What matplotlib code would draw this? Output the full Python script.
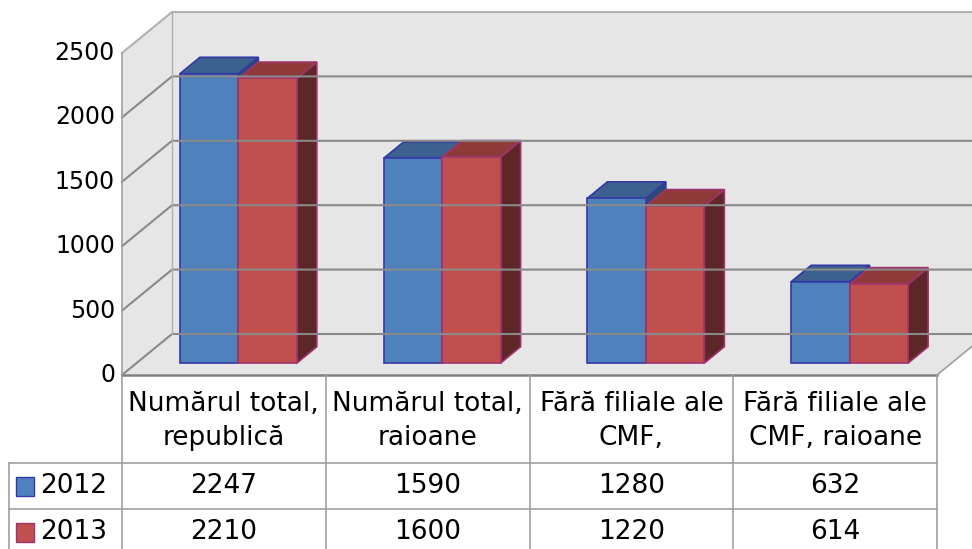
import matplotlib.pyplot as plt
from matplotlib.patches import Polygon, Rectangle

categories = [
    "Numărul total,\nrepublică",
    "Numărul total,\nraioane",
    "Fără filiale ale\nCMF,",
    "Fără filiale ale\nCMF, raioane",
]
years = ["2012", "2013"]
values_2012 = [2247, 1590, 1280, 632]
values_2013 = [2210, 1600, 1220, 614]
yticks = [0, 500, 1000, 1500, 2000, 2500]

W, H = 972, 549
PX_CAT = 815 / 4          # pixels per category
PX_VAL = 322 / 2500       # pixels per value unit
X0, Y0 = 122, 375         # pixel of (0, 0) front

DX = 50 / PX_CAT          # depth offset of the walls
DY = 41 / PX_VAL
Z0, Z1 = 0.29, 0.69       # bar front/back depth
BAR_W = 0.287

face = {"2012": "#4F81BD", "2013": "#C0504D"}
top = {"2012": "#3C618F", "2013": "#8E3A39"}
side = {"2012": "#2D4A72", "2013": "#5E2727"}
edge = {"2012": "#3438A6", "2013": "#A0336F"}
wall = "#E6E6E6"
grid = "#8A8A8A"


def proj(x, y, z):
    return (x + z * DX, y + z * DY)


def fy(py):
    return 1 - py / H


fig = plt.figure(figsize=(W / 100, H / 100), dpi=100)
ax = fig.add_axes([0, 0, 1, 1])
ax.set_xlim(-X0 / PX_CAT, (W - X0) / PX_CAT)
ax.set_ylim(-(H - Y0) / PX_VAL, Y0 / PX_VAL)
ax.axis("off")

n = len(categories)
vmax = yticks[-1]

# walls
walls = [
    [proj(0, 0, 1), proj(n, 0, 1), proj(n, vmax, 1), proj(0, vmax, 1)],
    [proj(0, 0, 0), proj(0, 0, 1), proj(0, vmax, 1), proj(0, vmax, 0)],
    [proj(0, 0, 0), proj(n, 0, 0), proj(n, 0, 1), proj(0, 0, 1)],
]
for pts in walls:
    ax.add_patch(Polygon(pts, closed=True, facecolor=wall, edgecolor="none"))

for v in yticks:
    pts = [proj(0, v, 0), proj(0, v, 1), proj(n + 1, v, 1)]
    col = "#B0B0B0" if v == vmax else grid
    ax.plot([p[0] for p in pts], [p[1] for p in pts], color=col, lw=1.5)
ax.plot([0, 0], [0, vmax], color="#A0A0A0", lw=1.2)
ax.plot([proj(0, 0, 1)[0]] * 2, [proj(0, 0, 1)[1], proj(0, vmax, 1)[1]],
        color="#B0B0B0", lw=1.0)
pa, pb = proj(n, 0, 0), proj(n, 0, 1)
ax.plot([pa[0], pb[0]], [pa[1], pb[1]], color="#A0A0A0", lw=1.2)

# bars
for i in range(n):
    x = i + 0.5 - BAR_W
    for year, vals in zip(years, [values_2012, values_2013]):
        v = vals[i]
        front = [proj(x, 0, Z0), proj(x + BAR_W, 0, Z0),
                 proj(x + BAR_W, v, Z0), proj(x, v, Z0)]
        topf = [proj(x, v, Z0), proj(x + BAR_W, v, Z0),
                proj(x + BAR_W, v, Z1), proj(x, v, Z1)]
        sidef = [proj(x + BAR_W, 0, Z0), proj(x + BAR_W, v, Z0),
                 proj(x + BAR_W, v, Z1), proj(x + BAR_W, 0, Z1)]
        for pts, c in [(sidef, side[year]), (topf, top[year]), (front, face[year])]:
            ax.add_patch(Polygon(pts, closed=True, facecolor=c,
                                 edgecolor=edge[year], lw=1.2, joinstyle="miter"))
        x += BAR_W

# y tick labels
for v in yticks:
    ax.text(-7 / PX_CAT, v, str(v), ha="right", va="center", fontsize=17)

# data table
xt = ax.get_xaxis_transform()
line_c = "#A0A0A0"
ax.plot([0, n], [fy(Y0)] * 2, transform=xt, color="#808080", lw=1.8)
for r in [463, 509]:
    ax.plot([-(X0 - 9) / PX_CAT, n], [fy(r)] * 2, transform=xt, color=line_c, lw=1.2)
for c in range(n + 1):
    ax.plot([c, c], [fy(Y0), 0], transform=xt, color=line_c, lw=1.2)
ax.plot([-(X0 - 9) / PX_CAT] * 2, [fy(463), 0], transform=xt, color=line_c, lw=1.2)

for i, cat in enumerate(categories):
    ax.text(i + 0.5, fy(421), cat, transform=xt, ha="center", va="center",
            fontsize=19, linespacing=1.38)

row_y = [486, 532]
for year, vals, ry in zip(years, [values_2012, values_2013], row_y):
    for i, v in enumerate(vals):
        ax.text(i + 0.5, fy(ry), str(v), transform=xt, ha="center", va="center",
                fontsize=19)
    fig.patches.append(Rectangle((16 / W, fy(ry + 10)), 18 / W, 19 / H,
                                 transform=fig.transFigure, facecolor=face[year],
                                 edgecolor=edge[year], lw=1.0))
    fig.text(40 / W, fy(ry), year, ha="left", va="center", fontsize=19)

fig.savefig("out.png", dpi=100)
